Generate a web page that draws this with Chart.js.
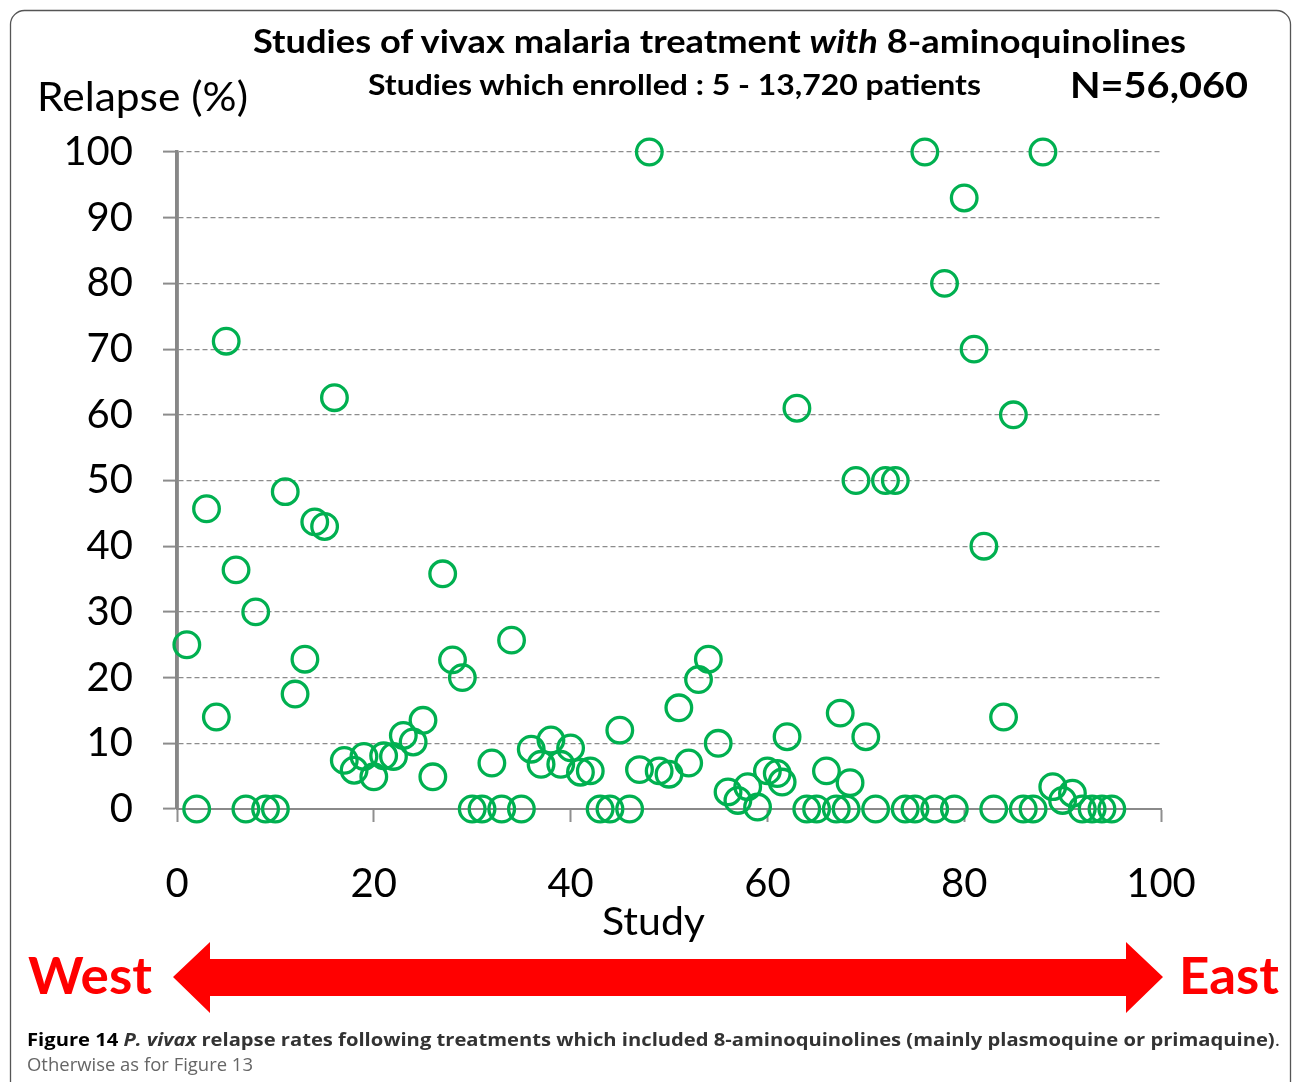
<!DOCTYPE html>
<html>
<head>
<meta charset="utf-8">
<script src="https://cdn.jsdelivr.net/npm/chart.js@4.4.1/dist/chart.umd.min.js"></script>
<style>
  html, body { margin: 0; padding: 0; background: #fff; }
  #wrap { position: relative; width: 1293px; height: 1082px; overflow: hidden; }
  #c { position: absolute; left: 0; top: 0; }
  #ov { position: absolute; left: 0; top: 0; pointer-events: none; }
</style>
</head>
<body>
<div id="wrap">
  <canvas id="c" width="1293" height="1082"></canvas>
  <svg id="ov" width="1293" height="1082" xmlns="http://www.w3.org/2000/svg">
    <rect x="10.5" y="10.5" width="1280" height="1120" rx="14" ry="14" fill="none" stroke="#555" stroke-width="1.3"/>
    <text x="253" y="53" font-family="Lato" font-weight="bold" font-size="32" fill="#000" textLength="933" lengthAdjust="spacingAndGlyphs">Studies of vivax malaria treatment <tspan font-style="italic">with</tspan> 8-aminoquinolines</text>
    <text x="368" y="95" font-family="Lato" font-weight="bold" font-size="28" fill="#000" textLength="613" lengthAdjust="spacingAndGlyphs">Studies which enrolled : 5 - 13,720 patients</text>
    <text x="1070" y="98" font-family="Lato" font-weight="bold" font-size="36" fill="#000" textLength="178" lengthAdjust="spacingAndGlyphs">N=56,060</text>
    <text x="37" y="111" font-family="Lato" font-size="40" fill="#000" textLength="211" lengthAdjust="spacingAndGlyphs">Relapse (%)</text>
    <text x="602" y="935" font-family="Lato" font-size="38" fill="#000" textLength="103" lengthAdjust="spacingAndGlyphs">Study</text>
    <polygon points="173,977 210,942 210,959 1126,959 1126,942 1163,977 1126,1013 1126,996 210,996 210,1013" fill="#FF0000"/>
    <text x="28" y="994" font-family="Lato" font-weight="bold" font-size="52" fill="#FF0000" textLength="124" lengthAdjust="spacingAndGlyphs">West</text>
    <text x="1179" y="994" font-family="Lato" font-weight="bold" font-size="52" fill="#FF0000" textLength="100" lengthAdjust="spacingAndGlyphs">East</text>
    <text x="27" y="1046" font-family="Open Sans" font-size="18" fill="#333" textLength="1253" lengthAdjust="spacingAndGlyphs"><tspan font-weight="bold" fill="#000">Figure 14</tspan> <tspan font-weight="bold" font-style="italic">P. vivax</tspan><tspan font-weight="bold"> relapse rates following treatments which included 8-aminoquinolines (mainly plasmoquine or primaquine)</tspan>.</text>
    <text x="27" y="1071" font-family="Open Sans" font-size="18" fill="#666" textLength="226" lengthAdjust="spacingAndGlyphs">Otherwise as for Figure 13</text>
  </svg>
</div>
<script>
// Study index (position along West -> East)
const studyX = [
  1, 2, 3, 4, 5, 6, 7, 8, 9, 10,
  11, 12, 13, 14, 15, 16, 17, 18, 19, 20,
  21, 22, 23, 24, 25, 26, 27, 28, 29, 30,
  31, 32, 33, 34, 35, 36, 37, 38, 39, 40,
  41, 42, 43, 44, 45, 46, 47, 48, 49, 50,
  51, 52, 53, 54, 55, 56, 57, 58, 59, 60,
  61, 61.5, 62, 63, 64, 65, 66, 67, 67.4, 68,
  68.4, 69, 70, 71, 72, 73, 74, 75, 76, 77,
  78, 79, 80, 81, 82, 83, 84, 85, 86, 87,
  88, 89, 90, 91, 92, 93, 94, 95
];
// Relapse rate (%)
const relapsePct = [
  25, 0, 45.7, 14, 71.2, 36.4, 0, 30, 0, 0,
  48.3, 17.5, 22.8, 43.7, 43, 62.6, 7.4, 5.9, 8, 4.9,
  8.1, 8, 11.2, 10.2, 13.5, 4.9, 35.8, 22.7, 20, 0,
  0, 7, 0, 25.7, 0, 9.1, 6.8, 10.5, 6.8, 9.3,
  5.6, 5.8, 0, 0, 12, 0, 6, 100, 5.8, 5.3,
  15.4, 7, 19.7, 22.8, 10, 2.6, 1.3, 3.4, 0.3, 5.8,
  5.4, 4.1, 11, 61, 0, 0, 5.8, 0, 14.6, 0,
  4, 50, 11, 0, 50, 50, 0, 0, 100, 0,
  80, 0, 93, 70, 40, 0, 14, 60, 0, 0,
  100, 3.4, 1.3, 2.4, 0, 0, 0, 0
];
const yTicks = [0, 10, 20, 30, 40, 50, 60, 70, 80, 90, 100];
const xTicks = [0, 20, 40, 60, 80, 100];

const points = studyX.map((x, i) => ({ x: x, y: relapsePct[i] }));

// solid axis lines, drawn under the markers
const solidAxisLine = {
  id: 'solidAxisLine',
  beforeDatasetsDraw(chart) {
    const ctx = chart.ctx, a = chart.chartArea;
    ctx.save();
    ctx.setLineDash([]);
    ctx.strokeStyle = '#878787';
    ctx.lineWidth = 3.5;
    ctx.beginPath();
    ctx.moveTo(a.left, a.top);
    ctx.lineTo(a.left, a.bottom);
    ctx.stroke();
    ctx.lineWidth = 2;
    ctx.strokeStyle = '#8a8a8a';
    ctx.beginPath();
    ctx.moveTo(a.left, a.bottom);
    ctx.lineTo(a.right, a.bottom);
    ctx.stroke();
    ctx.restore();
  }
};

new Chart(document.getElementById('c'), {
  type: 'scatter',
  data: {
    datasets: [{
      data: points,
      pointStyle: 'circle',
      pointRadius: 12.8,
      pointBorderWidth: 3.3,
      borderColor: '#00B050',
      backgroundColor: 'rgba(0,0,0,0)',
      pointHoverRadius: 12.8,
      clip: false
    }]
  },
  options: {
    responsive: false,
    devicePixelRatio: 1,
    animation: false,
    events: [],
    layout: { padding: { top: 152, right: 132, bottom: 0, left: 0 } },
    plugins: { legend: { display: false }, tooltip: { enabled: false }, title: { display: false } },
    scales: {
      x: {
        type: 'linear',
        min: 0, max: 100,
        afterBuildTicks: (s) => { s.ticks = xTicks.map(v => ({ value: v })); },
        afterFit: (s) => { s.height = 273; },
        ticks: {
          font: { family: 'Lato', size: 40 },
          color: '#000',
          padding: 38,
          maxRotation: 0,
          autoSkip: false
        },
        grid: {
          drawOnChartArea: false,
          drawTicks: true,
          tickLength: 13,
          tickColor: '#8f8f8f',
          tickWidth: 2
        },
        border: { display: true, color: '#8a8a8a', width: 2 }
      },
      y: {
        type: 'linear',
        min: 0, max: 100,
        afterBuildTicks: (s) => { s.ticks = yTicks.map(v => ({ value: v })); },
        afterFit: (s) => { s.width = 177; },
        ticks: {
          font: { family: 'Lato', size: 40 },
          color: '#000',
          padding: 30,
          autoSkip: false
        },
        grid: {
          color: '#8c8c8c',
          lineWidth: 1.2,
          drawTicks: true,
          tickLength: 14,
          tickColor: '#8c8c8c',
          tickWidth: 2,
          tickBorderDash: []
        },
        border: { display: true, color: '#878787', width: 3.5, dash: [5, 3] }
      }
    }
  },
  plugins: [solidAxisLine]
});
</script>
</body>
</html>
